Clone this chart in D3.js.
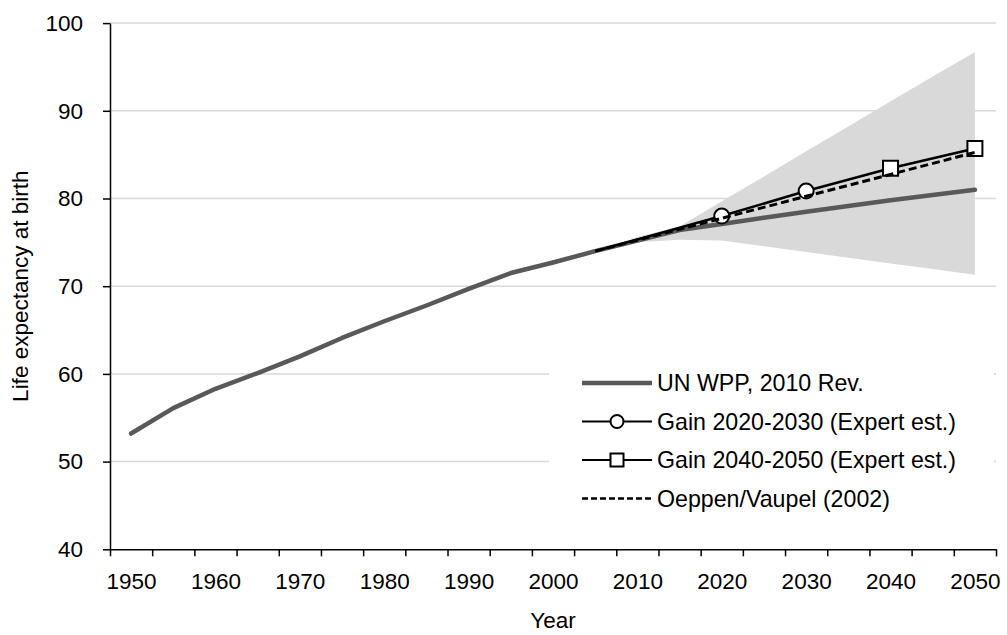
<!DOCTYPE html>
<meta charset="utf-8">
<style>
body { margin: 0; background: #fff; }
text { font-family: "Liberation Sans", Arial, sans-serif; font-size: 22.5px; fill: #000; }
.legend text { font-size: 23.2px; }
</style>
<body>
<svg id="chart" width="1007" height="635"></svg>
<script src="https://d3js.org/d3.v7.min.js"></script>
<script>
// 5-year periods on a category axis
var years = [1950,1955,1960,1965,1970,1975,1980,1985,1990,1995,2000,2005,2010,2015,2020,2025,2030,2035,2040,2045,2050];

// UN WPP 2010 revision, medium variant
var unWpp = [53.2,56.1,58.3,60.1,62.0,64.1,66.0,67.8,69.7,71.5,72.7,74.0,75.2,76.4,77.1,77.8,78.5,79.15,79.8,80.4,81.0];

// uncertainty band, projection years only
var bandYears = [2005,2010,2015,2020,2025,2030,2035,2040,2045,2050];
var bandLow   = [74.0,75.0,75.3,75.2,74.55,73.9,73.25,72.6,71.95,71.3];
var bandHigh  = [74.0,75.6,76.8,79.7,82.5,85.4,88.2,91.1,93.9,96.7];

// expert estimates
var gain2030Years = [2005,2020,2030];
var gain2030 = [74.0,78.0,80.85];
var gain2030Marks = [2020,2030];
var gain2050Years = [2030,2040,2050];
var gain2050 = [80.85,83.45,85.7];
var gain2050Marks = [2040,2050];

// Oeppen/Vaupel best-practice trend
var ovYears = [2005,2050];
var ov = [74.0,85.25];

var yTicks = [40,50,60,70,80,90,100];
var xLabels = [1950,1960,1970,1980,1990,2000,2010,2020,2030,2040,2050];

var svg = d3.select("#chart");
var mLeft = 110, mRight = 996, mTop = 23.1, mBottom = 549.3;

var x = d3.scalePoint().domain(years).range([mLeft, mRight]).padding(0.5);
var xEdge = d3.scaleLinear().domain([0, years.length]).range([mLeft, mRight]);
var y = d3.scaleLinear().domain([40, 100]).range([mBottom, mTop]);

// gridlines
svg.append("g").selectAll("line")
  .data(yTicks.filter(d => d > 40))
  .enter().append("line")
  .attr("x1", mLeft).attr("x2", mRight)
  .attr("y1", d => y(d)).attr("y2", d => y(d))
  .attr("stroke", "#d9d9d9").attr("stroke-width", 1.5);

// band
var bandData = bandYears.map((yr, i) => ({yr: yr, lo: bandLow[i], hi: bandHigh[i]}));
svg.append("path")
  .datum(bandData)
  .attr("fill", "#d9d9d9")
  .attr("d", d3.area().x(d => x(d.yr)).y0(d => y(d.lo)).y1(d => y(d.hi)));

var line = d3.line().x(d => x(d[0])).y(d => y(d[1]));

// UN line
svg.append("path")
  .datum(years.map((yr, i) => [yr, unWpp[i]]))
  .attr("fill", "none").attr("stroke", "#595959").attr("stroke-width", 4.5)
  .attr("stroke-linejoin", "round").attr("stroke-linecap", "round")
  .attr("d", line);

// expert lines
svg.append("path")
  .datum(gain2030Years.map((yr, i) => [yr, gain2030[i]]))
  .attr("fill", "none").attr("stroke", "#000").attr("stroke-width", 2.5)
  .attr("d", line);
svg.append("path")
  .datum(gain2050Years.map((yr, i) => [yr, gain2050[i]]))
  .attr("fill", "none").attr("stroke", "#000").attr("stroke-width", 2.5)
  .attr("d", line);

svg.append("g").selectAll("circle")
  .data(gain2030Marks)
  .enter().append("circle")
  .attr("cx", d => x(d)).attr("cy", d => y(gain2030[gain2030Years.indexOf(d)]))
  .attr("r", 7.5).attr("fill", "#fff").attr("stroke", "#000").attr("stroke-width", 2);

svg.append("g").selectAll("rect")
  .data(gain2050Marks)
  .enter().append("rect")
  .attr("x", d => x(d) - 7.5).attr("y", d => y(gain2050[gain2050Years.indexOf(d)]) - 7.5)
  .attr("width", 15).attr("height", 15)
  .attr("fill", "#fff").attr("stroke", "#000").attr("stroke-width", 2);

// dashed trend on top
svg.append("path")
  .datum(ovYears.map((yr, i) => [yr, ov[i]]))
  .attr("fill", "none").attr("stroke", "#000").attr("stroke-width", 3)
  .attr("stroke-dasharray", "8,4")
  .attr("d", line);

// axes
var yAxis = svg.append("g")
  .attr("transform", "translate(" + mLeft + ",0)")
  .call(d3.axisLeft(y).tickValues(yTicks).tickSize(7).tickSizeOuter(0).tickPadding(20));
yAxis.select(".domain").attr("stroke", "#000").attr("stroke-width", 1.5);
yAxis.selectAll(".tick line").attr("stroke-width", 1.5);
yAxis.selectAll("text").attr("font-size", null).attr("font-family", null);

var xTicks = svg.append("g")
  .attr("transform", "translate(0," + mBottom + ")")
  .call(d3.axisBottom(xEdge).tickValues(d3.range(years.length + 1)).tickSize(7).tickSizeOuter(0).tickFormat(""));
xTicks.select(".domain").attr("stroke", "#000").attr("stroke-width", 1.5);
xTicks.selectAll(".tick line").attr("stroke-width", 1.5);

var xAxis = svg.append("g")
  .attr("transform", "translate(0," + mBottom + ")")
  .call(d3.axisBottom(x).tickValues(xLabels).tickSize(0).tickPadding(24));
xAxis.select(".domain").remove();
xAxis.selectAll("text").attr("font-size", null).attr("font-family", null);

// axis titles
svg.append("text")
  .attr("x", (mLeft + mRight) / 2).attr("y", 628)
  .attr("text-anchor", "middle").text("Year");
svg.append("text")
  .attr("transform", "translate(28," + ((mTop + mBottom) / 2) + ") rotate(-90)")
  .attr("text-anchor", "middle").text("Life expectancy at birth");

// legend
var legend = svg.append("g").attr("class", "legend");
legend.append("rect")
  .attr("x", 549).attr("y", 358).attr("width", 445).attr("height", 160)
  .attr("fill", "#fff");

var legendItems = [
  {label: "UN WPP, 2010 Rev.", stroke: "#595959", width: 4.5, dash: null, mark: null},
  {label: "Gain 2020-2030 (Expert est.)", stroke: "#000", width: 2, dash: null, mark: "circle"},
  {label: "Gain 2040-2050 (Expert est.)", stroke: "#000", width: 2, dash: null, mark: "square"},
  {label: "Oeppen/Vaupel (2002)", stroke: "#000", width: 2.5, dash: "6,3", mark: null}
];
var rows = legend.selectAll("g.row")
  .data(legendItems)
  .enter().append("g")
  .attr("class", "row")
  .attr("transform", (d, i) => "translate(0," + (383 + i * 38.5) + ")");
rows.append("line")
  .attr("x1", 582).attr("x2", 652)
  .attr("stroke", d => d.stroke).attr("stroke-width", d => d.width)
  .attr("stroke-dasharray", d => d.dash);
rows.filter(d => d.mark === "circle").append("circle")
  .attr("cx", 617).attr("r", 6.5)
  .attr("fill", "#fff").attr("stroke", "#000").attr("stroke-width", 2);
rows.filter(d => d.mark === "square").append("rect")
  .attr("x", 610.5).attr("y", -6.5).attr("width", 13).attr("height", 13)
  .attr("fill", "#fff").attr("stroke", "#000").attr("stroke-width", 2);
rows.append("text")
  .attr("x", 657).attr("dy", "0.35em")
  .text(d => d.label);
</script>
</body>
